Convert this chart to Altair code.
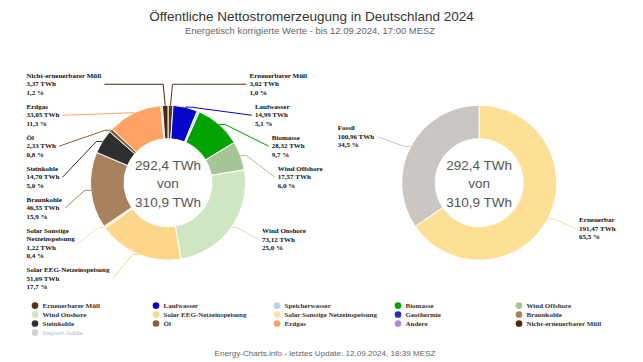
import math
import altair as alt
import pandas as pd

# ---------------- data ----------------
categories = ["Erneuerbarer Müll", "Laufwasser", "Speicherwasser", "Biomasse", "Wind Offshore",
              "Wind Onshore", "Solar EEG-Netzeinspeisung", "Solar Sonstige Netzeinspeisung", "Geothermie",
              "Braunkohle", "Steinkohle", "Öl", "Erdgas", "Andere", "Nicht-erneuerbarer Müll", "Import-Saldo"]
values_twh = [3.02, 14.99, 1.39, 28.32, 17.57, 73.12, 51.69, 1.22, 0.15,
              46.55, 14.70, 2.33, 33.05, 0.96, 3.37, 0.0]
label_titles = ["Erneuerbarer Müll", "Laufwasser", "Speicherwasser", "Biomasse", "Wind Offshore",
                "Wind Onshore", "Solar EEG-Netzeinspeisung", "Solar Sonstige\nNetzeinspeisung", "Geothermie",
                "Braunkohle", "Steinkohle", "Öl", "Erdgas", "Andere", "Nicht-erneuerbarer Müll", "Import-Saldo"]
labeled = [True, True, False, True, True, True, True, True, False,
           True, True, True, True, False, True, False]
colors = ["#5a3512", "#0505cc", "#bcd0f7", "#00a300", "#a7c498", "#cee6c2", "#ffd78c", "#ffe5a0", "#2d2daa",
          "#a8825e", "#2f2f2f", "#8b5f3b", "#ffa465", "#a88bd0", "#4a2a0a", "#d3d3d3"]

group_names = ["Erneuerbar", "Fossil"]
group_values = [191.47, 100.96]
group_colors = ["#fde096", "#cbc6c1"]

center_lines = ["292,4 TWh", "von", "310,9 TWh"]
title_text = "Öffentliche Nettostromerzeugung in Deutschland 2024"
subtitle_text = "Energetisch korrigierte Werte - bis 12.09.2024, 17:00 MESZ"
footer_text = "Energy-Charts.info - letztes Update: 12.09.2024, 18:39 MESZ"

# ---------------- layout (page pixels, converted below) ----------------
PAD_T = 10
W, H = 627, 342


def PX(x):
    return x - 8


def PY(y):
    return y - 8 - PAD_T


R_OUT, R_IN = 77.5, 44
CY = PY(182.7)
CX_L, CX_R = PX(168), PX(479.2)
LABEL_R = 98.5
X_RIGHT_R = 110
LEFT_OFF = 141.5
LABEL_FS = 7
LINE_H = 8.5

TB = {' ': 250, ',': 250, '.': 250, '%': 1000, '-': 333}
TB.update({d: 500 for d in "0123456789"})
TB.update(dict(A=722, B=667, C=722, D=722, E=667, F=611, G=778, H=778, I=389, J=500, K=778, L=667, M=944,
               N=722, O=778, P=611, Q=778, R=722, S=556, T=667, U=722, V=722, W=1000, X=722, Y=722, Z=667))
TB.update(dict(a=500, b=556, c=444, d=556, e=444, f=333, g=500, h=556, i=278, j=333, k=556, l=278, m=833,
               n=556, o=500, p=556, q=556, r=444, s=389, t=333, u=556, v=500, w=722, x=500, y=500, z=444))
TB.update({'Ö': 778, 'ü': 556, 'ö': 500, 'ä': 500})


def tw(s, size):
    return sum(TB.get(ch, 500) for ch in s) / 1000 * size


def de(v, nd):
    return f"{v:.{nd}f}".replace(".", ",")


def build_labels(names, titles, values, flags, cols, cx, cy):
    total = sum(values)
    items, cum = [], 0.0
    for name, t, v, f, col in zip(names, titles, values, flags, cols):
        a = (cum + v / 2) / total * 2 * math.pi
        cum += v
        if not f:
            continue
        text = f"{t}\n{de(v, 2)} TWh\n{de(v / total * 100, 1)} %"
        lines = text.split("\n")
        items.append(dict(name=name, col=col, text=text, n=len(lines),
                          w=max(tw(ln, LABEL_FS) for ln in lines),
                          side=1 if math.sin(a) >= 0 else -1, s=math.sin(a),
                          nat=cy - LABEL_R * math.cos(a),
                          ex=cx + R_OUT * math.sin(a), ey=cy - R_OUT * math.cos(a)))
    for side in (-1, 1):
        grp = sorted([it for it in items if it["side"] == side], key=lambda d: d["nat"])
        prev_y = prev_h = None
        for it in grp:
            h = it["n"] * LINE_H + 5.5
            y = it["nat"] if prev_y is None else max(it["nat"], prev_y + (prev_h + h) / 2)
            prev_y, prev_h = y, h
            it["y"] = y
            # Vega draws the first line at y: shift so the block is centred on y
            it["ytop"] = y - (it["n"] - 1) / 2 * LINE_H
            if side < 0:
                it["x"] = cx - LEFT_OFF
                ax = it["x"] + it["w"] + 3
            else:
                dy = y - cy
                dx = math.sqrt(max(X_RIGHT_R ** 2 - dy ** 2, 0))
                it["x"] = cx + max(dx, R_OUT + 4)
                ax = it["x"] - 3
            if abs(it["s"]) < 0.25 and y < it["ey"]:
                # slices at the very top: go straight up, then across to the label
                elbow = (it["ex"] + side * 2, y)
            else:
                elbow = (it["ex"] + side * 6, it["ey"])
            it["pts"] = [(ax, y), elbow, (it["ex"], it["ey"])]
    return items


items = build_labels(categories, label_titles, values_twh, labeled, colors, CX_L, CY)
items += build_labels(group_names, group_names, group_values, [True, True], group_colors, CX_R, CY)

label_df = pd.DataFrame([{"text": it["text"], "x": it["x"], "y": it["ytop"]} for it in items])
conn_df = pd.DataFrame([{"name": it["name"], "o": k, "x": p[0], "y": p[1], "col": it["col"]}
                        for it in items for k, p in enumerate(it["pts"])])

pie_df = pd.DataFrame({"cat": categories, "value": values_twh, "idx": range(len(categories))})
pie_df = pie_df[pie_df["value"] > 0]
grp_df = pd.DataFrame({"cat": group_names, "value": group_values, "col": group_colors,
                       "idx": range(len(group_names))})

legend = alt.Legend(
    title=None, orient="none", legendX=PX(31.5), legendY=PY(302), columns=5, direction="horizontal",
    gridAlign="all",
    symbolType="circle", symbolSize=45, symbolStrokeWidth=0, labelOffset=4,
    labelFont="Liberation Serif", labelFontSize=7, labelFontWeight="bold",
    labelColor=alt.ExprRef("datum.label === 'Import-Saldo' ? '#cccccc' : '#333333'"),
    labelLimit=300, rowPadding=1, columnPadding=17, padding=0,
)

pie_left = alt.Chart(pie_df).mark_arc(innerRadius=R_IN, outerRadius=R_OUT, stroke="white", strokeWidth=1).encode(
    theta=alt.Theta("value:Q", stack=True),
    order=alt.Order("idx:Q", sort="ascending"),
    color=alt.Color("cat:N", scale=alt.Scale(domain=categories, range=colors), legend=legend),
    x=alt.value(CX_L), y=alt.value(CY),
)

pie_right = alt.Chart(grp_df).mark_arc(innerRadius=R_IN, outerRadius=R_OUT, stroke="white", strokeWidth=1).encode(
    theta=alt.Theta("value:Q", stack=True),
    order=alt.Order("idx:Q", sort="ascending"),
    fill=alt.Fill("col:N", scale=None),
    x=alt.value(CX_R), y=alt.value(CY),
)

connectors = alt.Chart(conn_df).mark_line(strokeWidth=1).encode(
    x=alt.X("x:Q", scale=None, axis=None),
    y=alt.Y("y:Q", scale=None, axis=None),
    detail="name:N",
    order=alt.Order("o:Q"),
    stroke=alt.Stroke("col:N", scale=None),
)

labels = alt.Chart(label_df).mark_text(
    align="left", baseline="middle", lineBreak="\n", lineHeight=LINE_H,
    font="Liberation Serif", fontWeight="bold", fontSize=LABEL_FS, color="#111111",
).encode(
    x=alt.X("x:Q", scale=None, axis=None),
    y=alt.Y("y:Q", scale=None, axis=None),
    text="text:N",
)

center_df = pd.DataFrame({"t": ["\n".join(center_lines)]})
CENTER_LH = 18.3


def center_text(cx):
    return alt.Chart(center_df).mark_text(
        align="center", baseline="middle", lineBreak="\n", lineHeight=CENTER_LH,
        font="Liberation Sans", fontSize=13.5, color="#555555",
    ).encode(text="t:N", x=alt.value(cx), y=alt.value(CY + 1.6 - CENTER_LH))


def plain_text(txt, x, y, size, color):
    return alt.Chart(pd.DataFrame({"t": [txt]})).mark_text(
        align="center", baseline="alphabetic", font="Liberation Sans", fontSize=size, color=color,
    ).encode(text="t:N", x=alt.value(x), y=alt.value(y))


chart = alt.layer(
    pie_left, pie_right, connectors, labels,
    center_text(CX_L), center_text(CX_R),
    plain_text(title_text, PX(311.5), PY(20.5), 13.5, "#333333"),
    plain_text(subtitle_text, PX(310), PY(33.5), 9.45, "#666666"),
    plain_text(footer_text, PX(325), PY(356), 8.1, "#666666"),
).resolve_scale(
    color="independent", theta="independent"
).properties(
    width=W, height=H, autosize=alt.AutoSizeParams(type="none"),
    padding={"left": 0, "top": PAD_T, "right": 0, "bottom": 0},
).configure_view(stroke=None)

chart.save("out.html", embed_options={"renderer": "svg", "actions": False})
